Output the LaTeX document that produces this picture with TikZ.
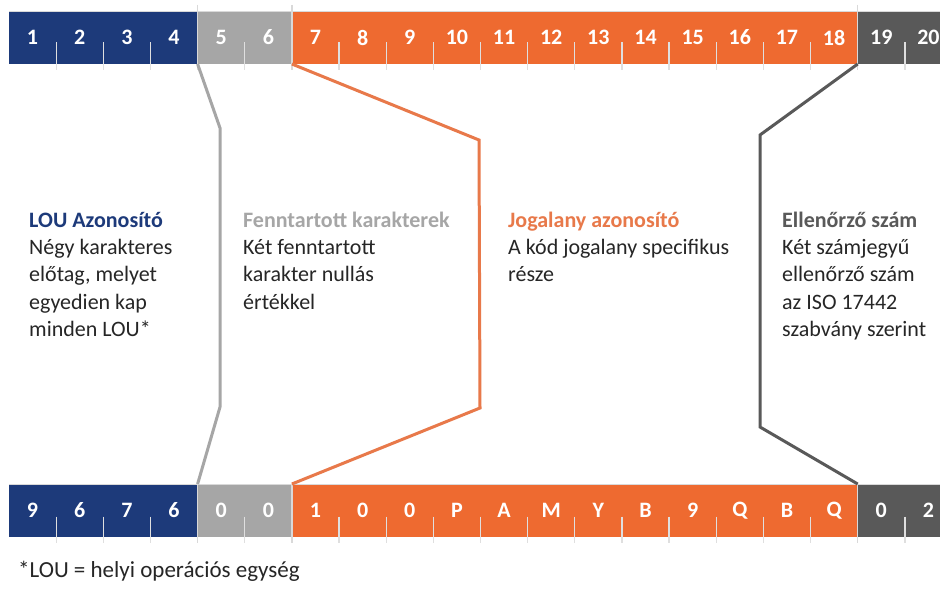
\documentclass[tikz,border=0pt]{standalone}
\usepackage{fontspec}
\setmainfont{Carlito}
\definecolor{loublue}{HTML}{1D3A7A}
\definecolor{resgray}{HTML}{A6A6A6}
\definecolor{leorange}{HTML}{EE6A30}
\definecolor{lineorange}{HTML}{E8794A}
\definecolor{chkgray}{HTML}{595959}
\definecolor{txt}{HTML}{262626}
\tikzset{
  cell/.style={minimum width=47.15pt, minimum height=53pt, inner sep=0pt, outer sep=0pt,
    anchor=north west, text=white, font=\fontsize{22}{26}\bfseries\selectfont},
  tickline/.style={draw=white!75!gray, line width=1.3pt},
  bound/.style={draw=gray!30, line width=1.4pt},
  conn/.style={line width=3pt, line join=miter},
  txtblock/.style={align=left, inner sep=0pt, text=txt, font=\fontsize{22}{27.4}\selectfont}
}
\begin{document}
\begin{tikzpicture}[x=1pt,y=-1pt]
\useasboundingbox (0,0) rectangle (940,591);
\fill[white] (0,0) rectangle (940,591);
\begin{scope}
\clip (0,0) rectangle (940,591);
% top bar
\foreach \i in {1,...,20}{
  \ifnum\i<5 \def\cc{loublue}\else\ifnum\i<7 \def\cc{resgray}\else\ifnum\i<19 \def\cc{leorange}\else\def\cc{chkgray}\fi\fi\fi
  \node[cell, fill=\cc] (t\i) at ({9+(\i-1)*47.15},11) {\i};
}
% bottom bar
\foreach \lab [count=\i] in {9,6,7,6,0,0,1,0,0,P,A,M,Y,B,9,Q,B,Q,0,2}{
  \ifnum\i<5 \def\cc{loublue}\else\ifnum\i<7 \def\cc{resgray}\else\ifnum\i<19 \def\cc{leorange}\else\def\cc{chkgray}\fi\fi\fi
  \node[cell, fill=\cc] (b\i) at ({9+(\i-1)*47.15},484) {\lab};
}
% ticks
\foreach \i in {1,2,3,5,7,8,9,10,11,12,13,14,15,16,17,19}{
  \draw[tickline] ([yshift=-5pt]t\i.east) -- ([yshift=-6pt]t\i.south east);
  \draw[tickline] ([yshift=-6pt]b\i.east) -- ([yshift=-6pt]b\i.south east);
}
\foreach \i in {4,6,18}{
  \draw[bound] ([yshift=6pt]t\i.north east) -- ([yshift=-6pt]t\i.south east);
  \draw[bound] (b\i.north east) -- ([yshift=-6pt]b\i.south east);
}
\draw[gray!30, line width=0.8pt] (t1.north west) -- (t20.north east);
\draw[gray!30, line width=0.8pt] (b1.north west) -- (b20.north east);
\end{scope}
% connectors
\coordinate (g1) at (220,128);
\coordinate (g2) at (220,407);
\coordinate (o1) at (479,140);
\coordinate (o2) at (480,408);
\coordinate (d1) at (760,135);
\coordinate (d2) at (760,427);
\draw[conn, resgray] (t4.south east) -- (g1) -- (g2) -- (b4.north east);
\draw[conn, lineorange] (t6.south east) -- (o1) -- (o2) -- (b6.north east);
\draw[conn, chkgray] (t18.south east) -- (d1) -- (d2) -- (b18.north east);
% texts (anchor = baseline of the last line)
\node[txtblock, anchor=base west] (lou) at (29,336.6)
  {\textcolor{loublue}{\bfseries LOU Azonosító}\\Négy karakteres\\előtag, melyet\\egyedien kap\\minden LOU*};
\node[txtblock, anchor=base west] (res) at (243,309.2)
  {\textcolor{resgray}{\bfseries Fenntartott karakterek}\\Két fenntartott\\karakter nullás\\értékkel};
\node[txtblock, anchor=base west] (le) at (508,281.8)
  {\textcolor{lineorange}{\bfseries Jogalany azonosító}\\A kód jogalany specifikus\\része};
\node[txtblock, anchor=base west] (chk) at (782,336.6)
  {\textcolor{chkgray}{\bfseries Ellenőrző szám}\\Két számjegyű\\ellenőrző szám\\az ISO 17442\\szabvány szerint};
\node[anchor=base west, inner sep=0pt, text=txt, font=\fontsize{23}{27}\selectfont] (fn) at (18,577)
  {*LOU = helyi operációs egység};
\end{tikzpicture}
\end{document}
